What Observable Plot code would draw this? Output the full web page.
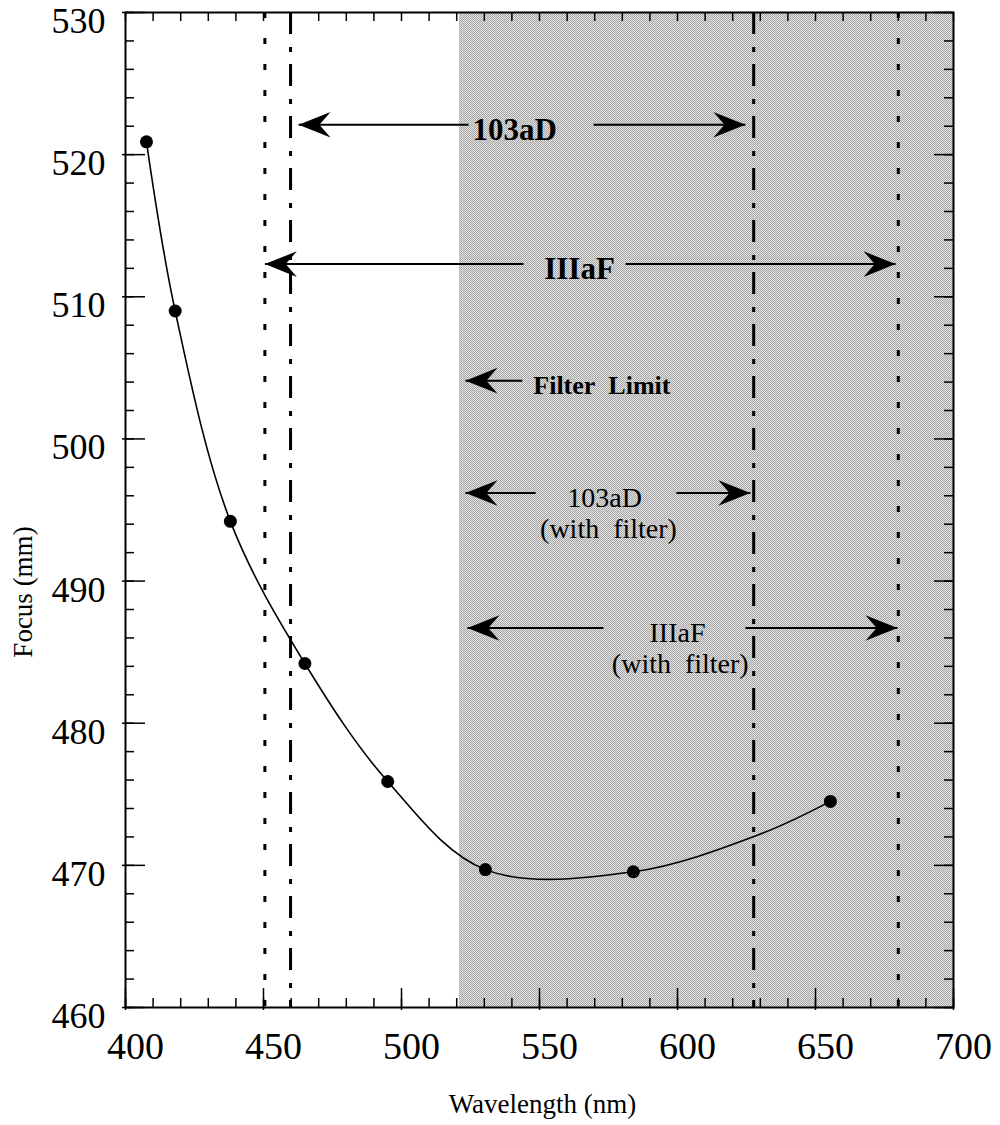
<!DOCTYPE html>
<html><head><meta charset="utf-8">
<script src="https://cdn.jsdelivr.net/npm/d3@7"></script>
<script src="https://cdn.jsdelivr.net/npm/@observablehq/plot@0.6"></script>
<style>
html,body{margin:0;padding:0;background:#fff;}
#chart svg{display:block;}
#chart svg text{font-family:'Liberation Serif', 'DejaVu Serif', serif;}
</style>
</head><body><div id="chart"></div>
<script>
// ---- data ----
const wavelength = [407.6, 418, 438, 465, 495, 530.4, 584, 655.4];
const focus      = [520.9, 509.0, 494.2, 484.2, 475.9, 469.7, 469.55, 474.5];
// smooth fitted curve
const curveWavelength = [407.6, 418, 438, 465, 495, 530.4, 584, 630, 655.4];
const curveFocus      = [520.9, 509.0, 494.2, 484.2, 475.9, 469.7, 469.55, 472.2, 474.5];

// emulsion sensitivity limits
const limitEmulsion   = ["IIIaF", "103aD", "103aD", "IIIaF"];
const limitWavelength = [450.5, 459.8, 627.6, 680];
const filterLimit = 521;

// range arrows
const arrowLabel = ["103aD", "IIIaF", "Filter\u2002Limit", "103aD", "IIIaF"];
const arrowNote  = ["", "", "", "(with\u2002filter)", "(with\u2002filter)"];
const arrowFocus = [522.1, 512.3, 504.1, 496.2, 486.7];
const arrowFrom  = [462.7, 450.5, 523.2, 523.2, 523.9];
const arrowTo    = [624.6, 679.0, null, 626.4, 679.7];
const shaftLeftEnd    = [524.3, 544.2, 543.8, 548.6, 573.2];
const shaftRightStart = [569.6, 581.2, null, 599.6, 624.6];
const labelAt    = [541, 564.5, 572.6, 573.6, 600];
const noteAt     = [null, null, null, 575, 601];

// axes
const xTickLabels = [400, 450, 500, 550, 600, 650, 700];
const yTickLabels = [460, 470, 480, 490, 500, 510, 520, 530];
const xMinorTicks = d3.range(400, 701, 10);
const yMinorTicks = d3.range(460, 531, 2);

// ---- layout ----
const W = 1000, H = 1125, mL = 125, mR = 47, mT = 12, mB = 118;
const plotW = W - mL - mR, plotH = H - mT - mB;
const FONT = "'Liberation Serif', 'DejaVu Serif', serif";

const points = wavelength.map((w, i) => ({w, f: focus[i]}));
const curvePts = curveWavelength.map((w, i) => ({w, f: curveFocus[i]}));
const limits = limitWavelength.map((w, i) => ({w, e: limitEmulsion[i]}));

const shafts = [];
const headsLeft = [], headsRight = [];
arrowFocus.forEach((f, i) => {
  shafts.push({x1: arrowFrom[i], x2: shaftLeftEnd[i], y: f});
  headsLeft.push({x: arrowFrom[i], y: f});
  if (arrowTo[i] != null) {
    shafts.push({x1: shaftRightStart[i], x2: arrowTo[i], y: f});
    headsRight.push({x: arrowTo[i], y: f});
  }
});
const labels = arrowLabel.map((t, i) => ({t, x: labelAt[i], y: arrowFocus[i], i}));
const notes = arrowNote.map((t, i) => ({t, x: noteAt[i], y: arrowFocus[i]})).filter(d => d.t);

function stealth(dir) {
  return {
    draw(ctx, size) {
      const r = Math.sqrt(size / Math.PI);
      ctx.moveTo(0, 0);
      ctx.lineTo(-dir * 2 * r, -0.8 * r);
      ctx.lineTo(-dir * 1.3 * r, 0);
      ctx.lineTo(-dir * 2 * r, 0.8 * r);
      ctx.closePath();
    }
  };
}

const svg = Plot.plot({
  width: W, height: H,
  marginLeft: mL, marginRight: mR, marginTop: mT, marginBottom: mB,
  style: {fontFamily: FONT, background: "#fff", color: "#000", overflow: "visible"},
  x: {domain: [400, 700], axis: null},
  y: {domain: [460, 530], axis: null},
  marks: [
    // filter shading
    Plot.rect([{x1: filterLimit, x2: 700}], {x1: "x1", x2: "x2", y1: 460, y2: 530, fill: "url(#stipple)"}),
    // ticks
    Plot.ruleX(xMinorTicks, {x: d => d, insetTop: plotH - 9, strokeWidth: 1.5}),
    Plot.ruleX(xTickLabels, {x: d => d, insetTop: plotH - 19, insetBottom: -3, strokeWidth: 1.5}),
    Plot.ruleX(xMinorTicks, {x: d => d, insetBottom: plotH - 9, strokeWidth: 1.5}),
    Plot.ruleY(yMinorTicks, {y: d => d, insetRight: plotW - 9, strokeWidth: 1.5}),
    Plot.ruleY(yTickLabels, {y: d => d, insetRight: plotW - 20, insetLeft: -3, strokeWidth: 1.5}),
    Plot.ruleY(yMinorTicks, {y: d => d, insetLeft: plotW - 9, strokeWidth: 1.5}),
    Plot.ruleY(yTickLabels, {y: d => d, insetLeft: plotW - 19, strokeWidth: 1.5}),
    Plot.frame({stroke: "#000", strokeWidth: 2}),
    // limit lines
    Plot.ruleX(limits.filter(d => d.e === "IIIaF"), {x: "w", stroke: "#000", strokeWidth: 3, strokeDasharray: "6,20"}),
    Plot.ruleX(limits.filter(d => d.e === "103aD"), {x: "w", stroke: "#000", strokeWidth: 3, strokeDasharray: "22,13,5,12"}),
    // curve + points
    Plot.line(curvePts, {x: "w", y: "f", curve: "catmull-rom", stroke: "#000", strokeWidth: 1.6}),
    Plot.dot(points, {x: "w", y: "f", r: 6.5, fill: "#000", stroke: "none"}),
    // arrows
    Plot.link(shafts, {x1: "x1", x2: "x2", y1: "y", y2: "y", stroke: "#000", strokeWidth: 2}),
    Plot.dot(headsLeft, {x: "x", y: "y", r: 16, symbol: stealth(-1), fill: "#000", stroke: "none"}),
    Plot.dot(headsRight, {x: "x", y: "y", r: 16, symbol: stealth(1), fill: "#000", stroke: "none"}),
    Plot.text(labels.filter(d => d.i < 2), {x: "x", y: "y", text: "t", dy: 5, fontFamily: FONT, fontSize: 31, fontWeight: "bold", fill: "#000"}),
    Plot.text(labels.filter(d => d.i === 2), {x: "x", y: "y", text: "t", dy: 5, fontFamily: FONT, fontSize: 26, fontWeight: "bold", fill: "#000"}),
    Plot.text(labels.filter(d => d.i > 2), {x: "x", y: "y", text: "t", dy: 5, fontFamily: FONT, fontSize: 28, fill: "#000"}),
    Plot.text(notes, {x: "x", y: "y", text: "t", dy: 36, fontFamily: FONT, fontSize: 28, fill: "#000"}),
    // tick labels
    Plot.text(yTickLabels, {y: d => d, text: d => String(d), frameAnchor: "left", dx: -20, dy: 9, textAnchor: "end", fontFamily: FONT, fontSize: 36, fill: "#000"}),
    Plot.text(xTickLabels, {x: d => d, text: d => String(d), frameAnchor: "bottom", dx: 10, dy: 51, fontFamily: FONT, fontSize: 38, fill: "#000"}),
    // titles
    Plot.text(["Wavelength (nm)"], {text: d => d, frameAnchor: "bottom", dx: 3, dy: 105, fontFamily: FONT, fontSize: 27, fill: "#000"}),
    Plot.text(["Focus (mm)"], {text: d => d, frameAnchor: "left", textAnchor: "middle", dx: -102, dy: 82, rotate: -90, fontFamily: FONT, fontSize: 27, fill: "#000"})
  ]
});

const ns = "http://www.w3.org/2000/svg";
const defs = document.createElementNS(ns, "defs");
defs.innerHTML = `<pattern id="stipple" width="2" height="2" patternUnits="userSpaceOnUse">
  <rect width="2" height="2" fill="#e2e2e2"/>
  <rect x="0" y="0" width="1" height="1" fill="#a6a6a6"/>
  <rect x="1" y="1" width="1" height="1" fill="#a6a6a6"/>
</pattern>`;
svg.insertBefore(defs, svg.firstChild);
document.getElementById("chart").appendChild(svg);
</script>
</body></html>
